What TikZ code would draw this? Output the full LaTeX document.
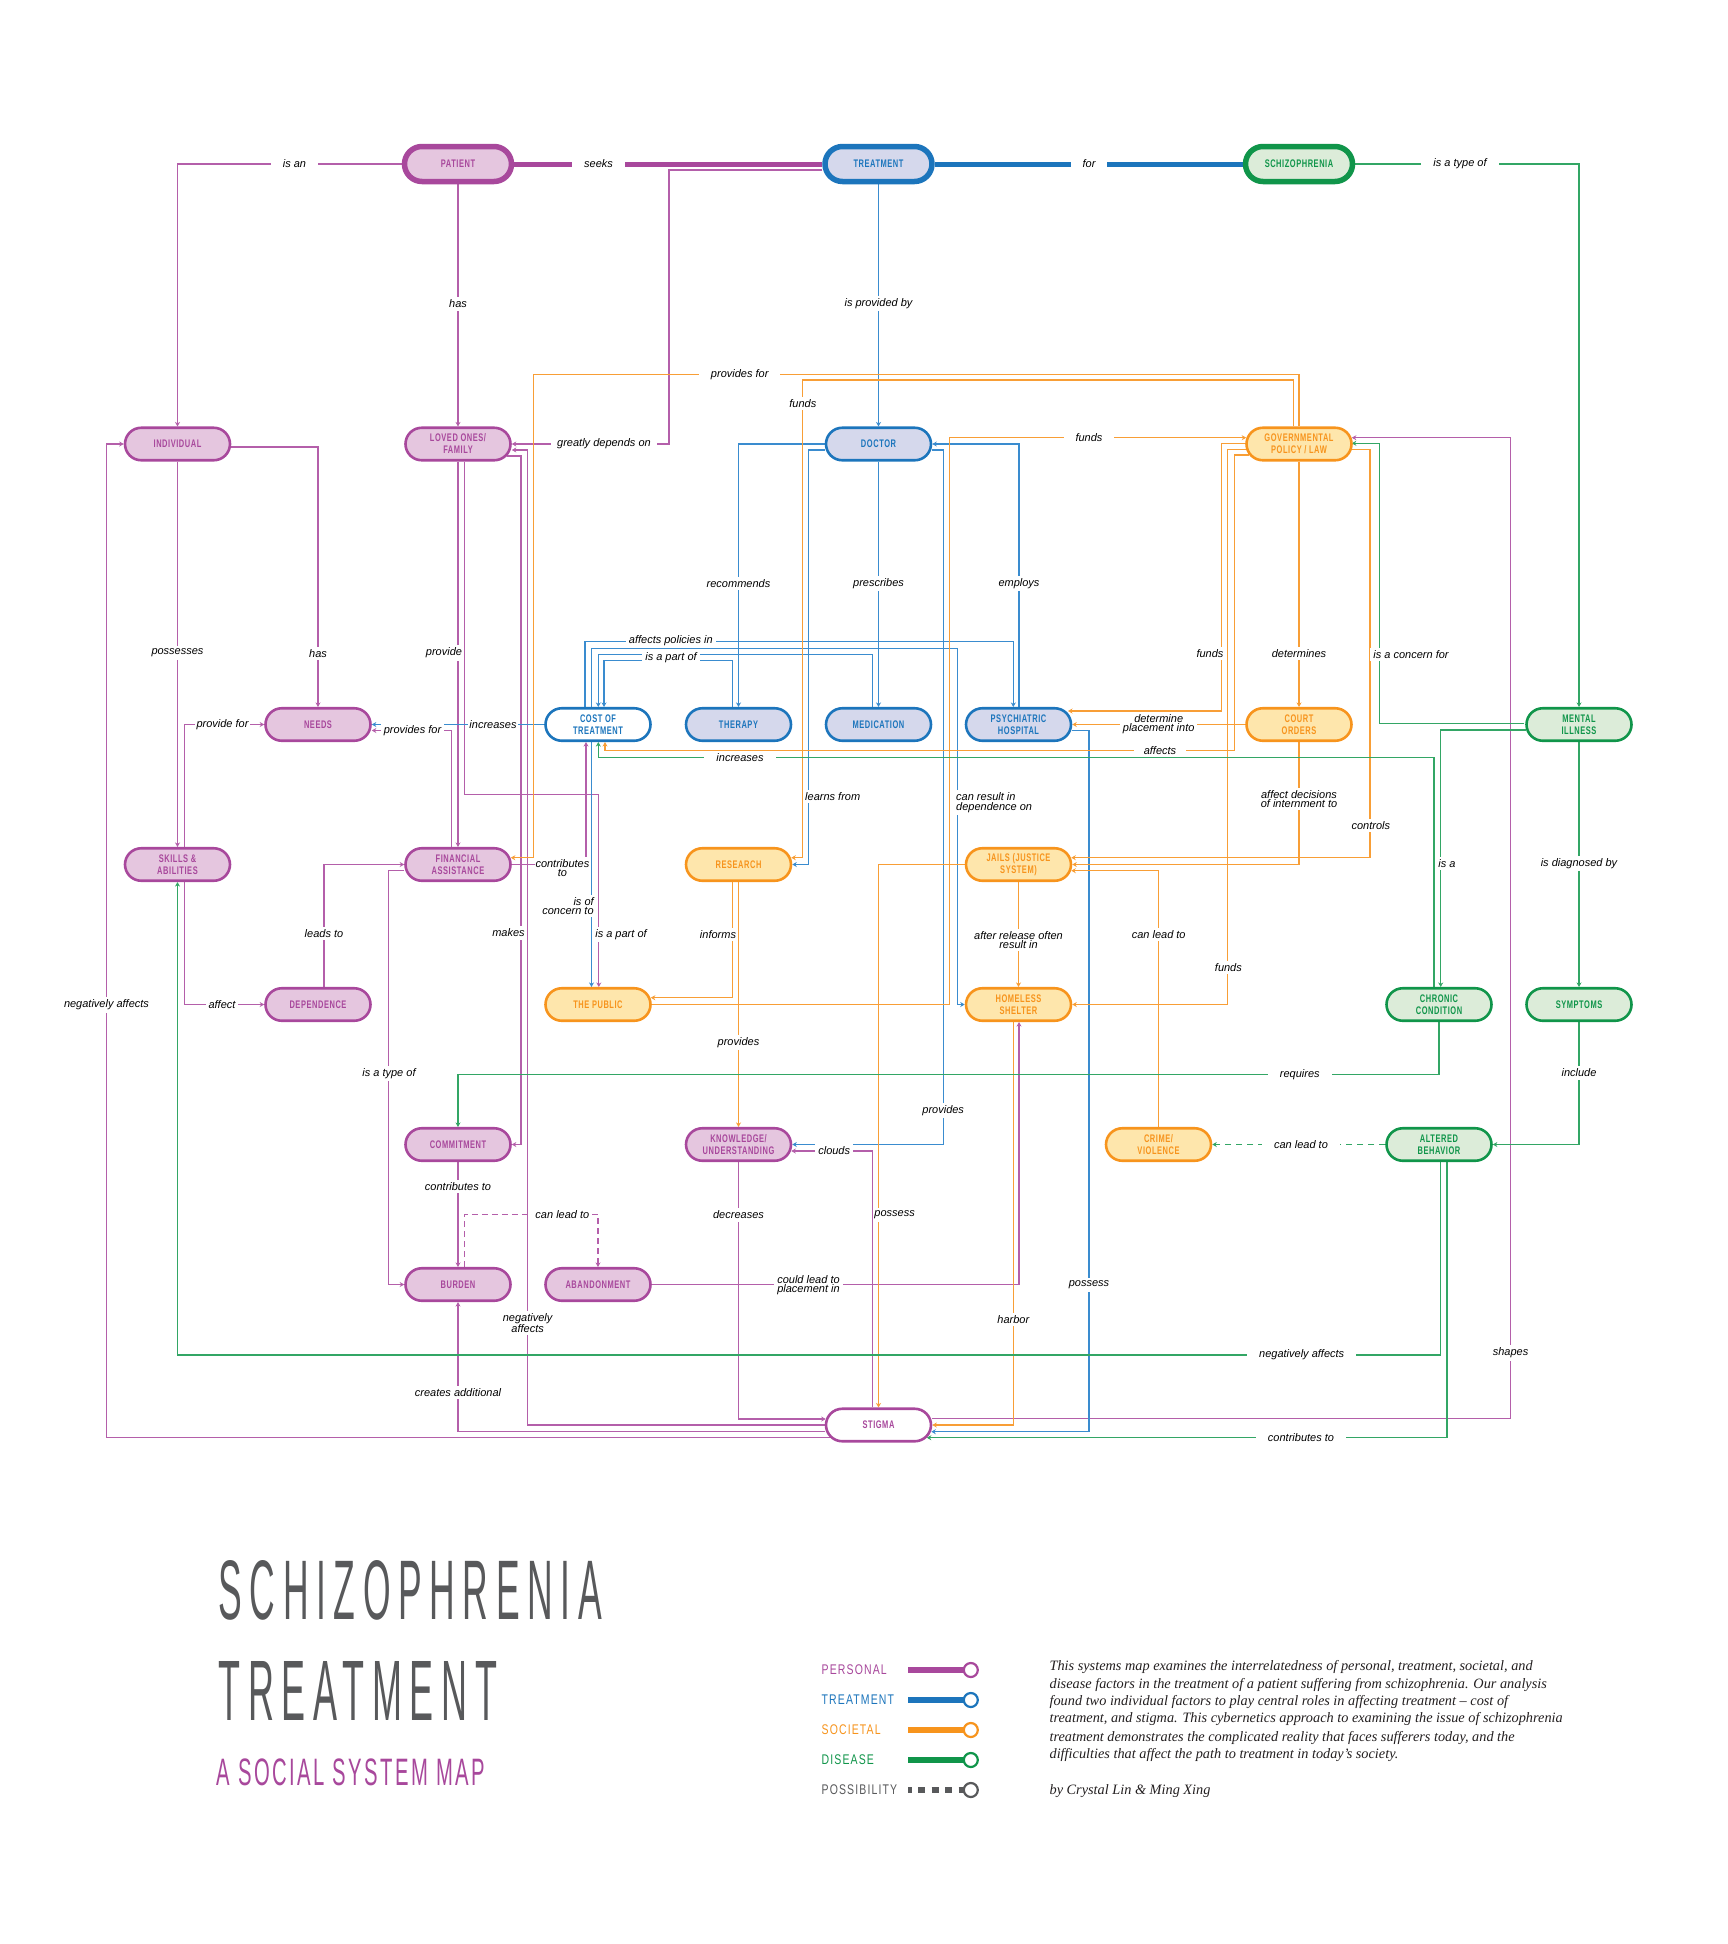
\documentclass[tikz,border=0pt]{standalone}
\usepackage{fontspec}
\usepackage{graphicx}
\setmainfont{Liberation Sans}
\newfontfamily\nodefont[FakeStretch=0.68,LetterSpace=5]{Liberation Sans}
\newfontfamily\legfont[FakeStretch=0.75,LetterSpace=8]{Liberation Sans}
\newfontfamily\titlefont[FakeStretch=0.42,LetterSpace=9]{Liberation Sans}
\newfontfamily\subfont[FakeStretch=0.5,LetterSpace=6]{Liberation Sans}
\newfontfamily\lblfont{Liberation Sans}
\newfontfamily\descfont{Liberation Serif}
\usetikzlibrary{shapes.misc,arrows.meta}
\definecolor{pB}{HTML}{A8489C}
\definecolor{pF}{HTML}{E5C6DF}
\definecolor{pL}{HTML}{B45FAA}
\definecolor{tB}{HTML}{1C75BC}
\definecolor{tF}{HTML}{D5D8EC}
\definecolor{tL}{HTML}{3A8CCF}
\definecolor{sB}{HTML}{F7941D}
\definecolor{sF}{HTML}{FEE6AC}
\definecolor{sL}{HTML}{F89E36}
\definecolor{dB}{HTML}{10954A}
\definecolor{dF}{HTML}{DCECD9}
\definecolor{dL}{HTML}{33A665}
\definecolor{gT}{HTML}{58595B}
\definecolor{dk}{HTML}{231F20}
\pgfdeclarelayer{bgl}
\pgfdeclarelayer{lnl}
\pgfsetlayers{bgl,lnl,main}
\tikzset{
  nd/.style={rounded rectangle, minimum width=105pt, minimum height=32.5pt, line width=2.6pt, inner sep=0pt, align=center, font=\nodefont\bfseries\fontsize{11}{12}\selectfont},
  topn/.style={minimum width=107pt, minimum height=35pt, line width=5.5pt},
  pn/.style={nd, draw=pB, fill=pF, text=pB},
  tn/.style={nd, draw=tB, fill=tF, text=tB},
  sn/.style={nd, draw=sB, fill=sF, text=sB},
  dn/.style={nd, draw=dB, fill=dF, text=dB},
  pw/.style={nd, draw=pB, fill=white, text=pB},
  tw/.style={nd, draw=tB, fill=white, text=tB},
  con/.style={line width=1.35pt, -{Stealth[length=4.5pt,width=5pt]}},
  pl/.style={con, draw=pL},
  tl/.style={con, draw=tL},
  sl/.style={con, draw=sL},
  dl/.style={con, draw=dL},
  lb/.style={fill=white, inner xsep=3pt, inner ysep=2.5pt, font=\lblfont\itshape\fontsize{11}{9.5}\selectfont, align=center, text=black},
  wd/.style={inner xsep=12pt},
  tb/.style={inner ysep=0.8pt},
  nx/.style={inner xsep=1pt},
  leg/.style={anchor=west, inner sep=0pt, font=\legfont\fontsize{14}{14}\selectfont},
  desc/.style={anchor=base west, inner sep=0pt, text=dk, font=\descfont\itshape\fontsize{14.3}{17.7}\selectfont}
}
\begin{document}
\begin{tikzpicture}[x=1pt,y=-1pt]
\begin{pgfonlayer}{bgl}
\fill[white] (0,0) rectangle (1728,1944);
\end{pgfonlayer}
\useasboundingbox (0,0) rectangle (1728,1944);

% ---------------- nodes ----------------
\node[pn,topn] (patient) at (458,164) {PATIENT};
\node[tn,topn] (treatment) at (878.5,164) {TREATMENT};
\node[dn,topn] (schizo) at (1299,164) {SCHIZOPHRENIA};
\node[pn] (individual) at (177.5,444) {INDIVIDUAL};
\node[pn] (loved) at (458,444) {LOVED ONES/\\FAMILY};
\node[tn] (doctor) at (878.5,444) {DOCTOR};
\node[sn] (gov) at (1299,444) {GOVERNMENTAL\\POLICY / LAW};
\node[pn] (needs) at (318,724.5) {NEEDS};
\node[tw] (cost) at (598,724.5) {COST OF\\TREATMENT};
\node[tn] (therapy) at (738.5,724.5) {THERAPY};
\node[tn] (medication) at (878.5,724.5) {MEDICATION};
\node[tn] (hospital) at (1018.5,724.5) {PSYCHIATRIC\\HOSPITAL};
\node[sn] (court) at (1299,724.5) {COURT\\ORDERS};
\node[dn] (mental) at (1579,724.5) {MENTAL\\ILLNESS};
\node[pn] (skills) at (177.5,864.5) {SKILLS \&\\ABILITIES};
\node[pn] (financial) at (458,864.5) {FINANCIAL\\ASSISTANCE};
\node[sn] (research) at (738.5,864.5) {RESEARCH};
\node[sn] (jails) at (1018.5,864.5) {JAILS (JUSTICE\\SYSTEM)};
\node[pn] (dependence) at (318,1004.5) {DEPENDENCE};
\node[sn] (public) at (598,1004.5) {THE PUBLIC};
\node[sn] (homeless) at (1018.5,1004.5) {HOMELESS\\SHELTER};
\node[dn] (chronic) at (1439,1004.5) {CHRONIC\\CONDITION};
\node[dn] (symptoms) at (1579,1004.5) {SYMPTOMS};
\node[pn] (commitment) at (458,1144.5) {COMMITMENT};
\node[pn] (knowledge) at (738.5,1144.5) {KNOWLEDGE/\\UNDERSTANDING};
\node[sn] (crime) at (1158.5,1144.5) {CRIME/\\VIOLENCE};
\node[dn] (altered) at (1439,1144.5) {ALTERED\\BEHAVIOR};
\node[pn] (burden) at (458,1284.5) {BURDEN};
\node[pn] (abandonment) at (598,1284.5) {ABANDONMENT};
\node[pw] (stigma) at (878.5,1425) {STIGMA};

% ---------------- connectors ----------------
\begin{pgfonlayer}{lnl}
% personal
\draw[pl] (patient.west) -| (individual.north);
\draw[pl,-,line width=5pt,draw=pB] (patient.east) -- (treatment.west);
\draw[pl] (patient.south) -- (loved.north);
\draw[pl] ([yshift=-6pt]treatment.west) -- (669,170) -- (669,444) -- (loved.east);
\draw[pl] ([yshift=-3pt]individual.east) -| (needs.north);
\draw[pl] (individual.south) -- (skills.north);
\draw[pl] ([xshift=7pt]skills.north) |- (needs.west);
\draw[pl] ([xshift=7pt]skills.south) |- (dependence.west);
\draw[pl] ([xshift=6pt]dependence.north) |- (financial.west);
\draw[pl] ([xshift=-6.5pt]financial.north) |- ([yshift=-6pt]needs.east);
\draw[pl] (loved.south) -- (financial.north);
\draw[pl] ([xshift=6.5pt]loved.south) |- (598.8,794.3) -- ([xshift=0.8pt]public.north);
\draw[pl] (financial.east) -| ([xshift=-12pt]cost.south);
\draw[pl] ([xshift=-5pt,yshift=-12pt]loved.east) -- (521,456) |- (commitment.east);
\draw[pl] (stigma.west) -- (527.6,1425) |- ([yshift=-6pt]loved.east);
\draw[pl] ([yshift=-6.7pt]stigma.west) -| (burden.south);
\draw[pl] ([xshift=5pt,yshift=-12.7pt]stigma.west) -- (106.3,1437.7) |- (individual.west);
\draw[pl] (knowledge.south) |- ([xshift=1pt,yshift=6pt]stigma.west);
\draw[pl] ([xshift=-5.7pt]stigma.north) |- ([xshift=-1pt,yshift=-6.5pt]knowledge.east);
\draw[pl] ([yshift=-6.2pt]financial.west) -- (388.3,870.7) |- (burden.west);
\draw[pl] (commitment.south) -- (burden.north);
\draw[pl,dash pattern=on 6pt off 4pt] ([xshift=6.5pt]burden.north) |- (598,1214.3) -- (abandonment.north);
\draw[pl] (abandonment.east) -| ([xshift=0.5pt]homeless.south);
\draw[pl] ([yshift=6.7pt]stigma.east) -- (1510.6,1418.3) |- ([xshift=-1pt,yshift=6.3pt]gov.east);
% treatment
\draw[tl,-,line width=5pt,draw=tB] (treatment.east) -- (schizo.west);
\draw[tl] (treatment.south) -- (doctor.north);
\draw[tl] (doctor.west) -| (therapy.north);
\draw[tl] ([yshift=-6pt]doctor.west) -- (808.5,450) |- (research.east);
\draw[tl] (doctor.south) -- (medication.north);
\draw[tl] ([xshift=0.5pt]hospital.north) |- (doctor.east);
\draw[tl] ([yshift=-6pt]doctor.east) -- (943.2,450) |- (knowledge.east);
\draw[tl] (cost.west) -- (needs.east);
\draw[tl] ([xshift=-13pt]cost.north) |- (1013.3,641.7) -- ([xshift=-5.2pt]hospital.north);
\draw[tl] ([xshift=-6.3pt]cost.north) |- (957.8,648.3) |- (homeless.west);
\draw[tl] ([xshift=-5.7pt]medication.north) |- (598.3,654.3) -- ([xshift=0.3pt]cost.north);
\draw[tl] ([xshift=-5.7pt]therapy.north) |- (604,660.7) -- ([xshift=6pt]cost.north);
\draw[tl] ([xshift=-6.5pt]cost.south) -- ([xshift=-6.5pt]public.north);
\draw[tl] ([yshift=-6.2pt]hospital.east) -- (1089,730.7) |- ([xshift=-1pt,yshift=-6.7pt]stigma.east);
% societal
\draw[sl] (gov.north) -- (1299,374.3) -- (533.3,374.3) |- ([xshift=-1pt,yshift=6.8pt]financial.east);
\draw[sl] ([xshift=-5.5pt]gov.north) |- (802.8,380) |- ([xshift=-1pt,yshift=6.8pt]research.east);
\draw[sl] (public.east) -- (949.4,1004.5) |- ([xshift=1pt,yshift=6.3pt]gov.west);
\draw[sl] ([xshift=2pt,yshift=0.7pt]gov.west) -- (1221.4,443.3) |- ([xshift=-4.3pt,yshift=13.5pt]hospital.east);
\draw[sl] ([xshift=2pt,yshift=-5.3pt]gov.west) -- (1227.7,449.3) |- (homeless.east);
\draw[sl] ([xshift=4pt,yshift=-11pt]gov.west) -- (1234.3,455) |- (605,750.7) -- ([xshift=7pt]cost.south);
\draw[sl] (gov.south) -- (court.north);
\draw[sl] ([xshift=-2pt,yshift=-5.3pt]gov.east) -- (1370,449.3) |- ([xshift=-1pt,yshift=6.8pt]jails.east);
\draw[sl] (court.west) -- (hospital.east);
\draw[sl] (court.south) |- (jails.east);
\draw[sl] (crime.north) |- ([xshift=-1pt,yshift=-6.2pt]jails.east);
\draw[sl] (jails.west) -| (stigma.north);
\draw[sl] (jails.south) -- (homeless.north);
\draw[sl] ([xshift=-5.2pt]homeless.south) |- (stigma.east);
\draw[sl] ([xshift=-5.7pt]research.south) |- ([xshift=-1pt,yshift=6.8pt]public.east);
\draw[sl] (research.south) -- (knowledge.north);
% disease
\draw[dl] (schizo.east) -| (mental.north);
\draw[dl] ([xshift=-1pt,yshift=0.8pt]mental.west) -- (1379.3,723.7) |- ([xshift=-1pt,yshift=0.7pt]gov.east);
\draw[dl] ([xshift=1pt,yshift=-5.5pt]mental.west) -- (1440.7,730) -- ([xshift=1.7pt]chronic.north);
\draw[dl] ([xshift=-5pt]chronic.north) |- (598.3,757.3) -- ([xshift=0.3pt]cost.south);
\draw[dl] (mental.south) -- (symptoms.north);
\draw[dl] (chronic.south) |- (458,1074.3) -- (commitment.north);
\draw[dl] (symptoms.south) |- (altered.east);
\draw[dl,dash pattern=on 6pt off 5pt] (altered.west) -- (crime.east);
\draw[dl] ([xshift=1.7pt]altered.south) |- (177.5,1355) -- (skills.south);
\draw[dl] ([xshift=8pt]altered.south) |- ([xshift=-5.5pt,yshift=-12.7pt]stigma.east);
\end{pgfonlayer}

% ---------------- labels ----------------
\node[lb,wd] (l01) at (294.5,164) {is an};
\node[lb,wd] (l02) at (598.5,164) {seeks};
\node[lb,wd] (l03) at (1089,164) {for};
\node[lb,wd] (l04) at (1460,164) {is a type of};
\node[lb] (l05) at (458,304) {has};
\node[lb] (l06) at (878.5,303.3) {is provided by};
\node[lb,inner xsep=6pt] (l07) at (604,444) {greatly depends on};
\node[lb,wd] (l08) at (739.7,374.3) {provides for};
\node[lb] (l09) at (802.8,403.3) {funds};
\node[lb,wd] (l10) at (1089,437.7) {funds};
\node[lb] (l11) at (738.5,583.3) {recommends};
\node[lb] (l12) at (878.5,583.3) {prescribes};
\node[lb] (l13) at (1019,583.3) {employs};
\node[lb] (l14) at (177.5,653) {possesses};
\node[lb] (l15) at (318,653.3) {has};
\node[lb,inner xsep=0.5pt] (l16) at (444,653) {provide};
\node[lb,tb] (l17) at (670.8,640.7) {affects policies in};
\node[lb,tb] (l18) at (671,657.5) {is a part of};
\node[lb,nx] (l19) at (1210,653.3) {funds};
\node[lb] (l20) at (1299,653.3) {determines};
\node[lb] (l21) at (1411,654.3) {is a concern for};
\node[lb,inner xsep=2pt] (l22) at (222.5,724.5) {provide for};
\node[lb] (l23) at (412.5,730.5) {provides for};
\node[lb,inner xsep=1.5pt] (l24) at (493,724.5) {increases};
\node[lb,tb] (l25) at (1158.7,724) {determine\\placement into};
\node[lb,inner xsep=10pt,inner ysep=0.5pt] (l26) at (1160,750.7) {affects};
\node[lb,wd,tb] (l27) at (740,758) {increases};
\node[lb,nx] (l28) at (832.7,796.7) {learns from};
\node[lb,nx,anchor=west,align=left] (l29) at (955,802.7) {can result in\\dependence on};
\node[lb] (l30) at (1299,799) {affect decisions\\of internment to};
\node[lb] (l31) at (1370.8,825.7) {controls};
\node[lb] (l32) at (1579,863.7) {is diagnosed by};
\node[lb,nx] (l33) at (1447,863.7) {is a};
\node[lb,nx] (l34) at (562.4,868) {contributes\\to};
\node[lb,nx,align=right] (l35) at (568,906) {is of\\concern to};
\node[lb] (l36) at (324,933.7) {leads to};
\node[lb,nx] (l37) at (508.5,933) {makes};
\node[lb,inner xsep=1.5pt] (l38) at (621,934.3) {is a part of};
\node[lb,inner xsep=1.5pt] (l39) at (718,934.3) {informs};
\node[lb] (l40) at (1158.7,934.3) {can lead to};
\node[lb] (l41) at (1018.5,940) {after release often\\result in};
\node[lb,nx] (l42) at (1228.4,967.3) {funds};
\node[lb] (l43) at (222,1004.5) {affect};
\node[lb] (l44) at (106.5,1005) {negatively affects};
\node[lb] (l45) at (738.5,1042.7) {provides};
\node[lb,wd] (l46) at (1299.8,1074.3) {requires};
\node[lb] (l47) at (1579,1073) {include};
\node[lb] (l48) at (389,1073.3) {is a type of};
\node[lb] (l49) at (943.2,1110.7) {provides};
\node[lb] (l50) at (834.2,1151) {clouds};
\node[lb,wd] (l51) at (1301,1144.5) {can lead to};
\node[lb] (l52) at (458,1186.7) {contributes to};
\node[lb] (l53) at (562.4,1214.3) {can lead to};
\node[lb] (l54) at (738.5,1215) {decreases};
\node[lb,nx] (l55) at (894.6,1215) {possess};
\node[lb,align=left] (l56) at (808.5,1285) {could lead to\\placement in};
\node[lb] (l57) at (1089,1285) {possess};
\node[lb] (l58) at (1013.3,1319.3) {harbor};
\node[lb] (l59) at (527.6,1323) {negatively\\affects};
\node[lb] (l60) at (1510.6,1353) {shapes};
\node[lb,wd] (l61) at (1301.7,1355) {negatively affects};
\node[lb] (l62) at (458,1392.3) {creates additional};
\node[lb,wd] (l63) at (1301,1437.7) {contributes to};

% ---------------- title ----------------
\node[anchor=south west, inner sep=0pt, text=gT] (title1) at (218.3,1620.7) {\resizebox{383pt}{59pt}{\titlefont SCHIZOPHRENIA}};
\node[anchor=south west, inner sep=0pt, text=gT] (title2) at (218.3,1720.7) {\resizebox{278.4pt}{59pt}{\titlefont TREATMENT}};
\node[anchor=south west, inner sep=0pt, text=pB] (title3) at (216.7,1786) {\resizebox{268.3pt}{26.7pt}{\subfont A SOCIAL SYSTEM MAP}};

% ---------------- legend ----------------
\node[leg, text=pB] (lgP) at (821.5,1670) {PERSONAL};
\node[leg, text=tB] (lgT) at (821.5,1700) {TREATMENT};
\node[leg, text=sB] (lgS) at (821.5,1730) {SOCIETAL};
\node[leg, text=dB] (lgD) at (821.5,1760) {DISEASE};
\node[leg, text=gT] (lgX) at (821.5,1790) {POSSIBILITY};
\draw[pB, line width=6.7pt] (908.4,1670) -- (963,1670);
\draw[pB, line width=2.2pt, fill=white] (970.8,1670) circle[radius=7pt];
\draw[tB, line width=6.7pt] (908.4,1700) -- (963,1700);
\draw[tB, line width=2.2pt, fill=white] (970.8,1700) circle[radius=7pt];
\draw[sB, line width=6.7pt] (908.4,1730) -- (963,1730);
\draw[sB, line width=2.2pt, fill=white] (970.8,1730) circle[radius=7pt];
\draw[dB, line width=6.7pt] (908.4,1760) -- (963,1760);
\draw[dB, line width=2.2pt, fill=white] (970.8,1760) circle[radius=7pt];
\draw[gT, line width=6.7pt, dash pattern=on 7pt off 6.5pt, dash phase=3.7pt] (908.4,1790) -- (963,1790);
\draw[gT, line width=2.2pt, fill=white] (970.8,1790) circle[radius=7pt];

% ---------------- description ----------------
\node[desc] (d1) at (1049.4,1670) {This systems map examines the interrelatedness of personal, treatment, societal, and};
\node[desc] (d2) at (1049.4,1688) {disease factors in the treatment of a patient suffering from schizophrenia. Our analysis};
\node[desc] (d3) at (1049.4,1705.3) {found two individual factors to play central roles in affecting treatment – cost of};
\node[desc] (d4) at (1049.4,1722.7) {treatment, and stigma. This cybernetics approach to examining the issue of schizophrenia};
\node[desc] (d5) at (1049.4,1741) {treatment demonstrates the complicated reality that faces sufferers today, and the};
\node[desc] (d6) at (1049.4,1758.7) {difficulties that affect the path to treatment in today’s society.};
\node[desc] (d7) at (1049.4,1794.3) {by Crystal Lin \& Ming Xing};
\end{tikzpicture}
\end{document}
